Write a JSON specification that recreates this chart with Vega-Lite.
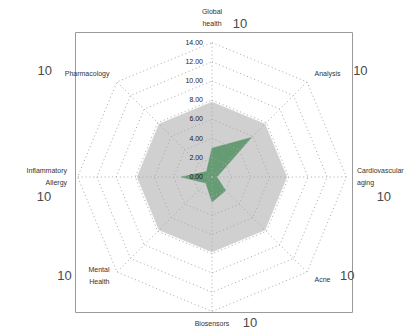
{
  "$schema": "https://vega.github.io/schema/vega-lite/v6.json",
  "width": 277,
  "height": 280,
  "autosize": "none",
  "padding": {"left": 75, "top": 32, "right": 65, "bottom": 21},
  "background": "white",
  "config": {"view": {"stroke": "#9a9a9a", "strokeWidth": 1}, "font": "Liberation Sans"},
  "datasets": {
    "axes": [
      {"i": 0, "name": "Global\nhealth", "value": 3.0, "ref": 7.8, "max": 10},
      {"i": 1, "name": "Analysis", "value": 5.8, "ref": 7.8, "max": 10},
      {"i": 2, "name": "Cardiovascular\naging", "value": 0.5, "ref": 7.8, "max": 10},
      {"i": 3, "name": "Acne", "value": 2.0, "ref": 7.8, "max": 10},
      {"i": 4, "name": "Biosensors", "value": 2.6, "ref": 7.8, "max": 10},
      {"i": 5, "name": "Mental\nHealth", "value": 0.9, "ref": 7.8, "max": 10},
      {"i": 6, "name": "Inflammatory\nAllergy", "value": 3.2, "ref": 7.8, "max": 10},
      {"i": 7, "name": "Pharmacology", "value": 0.8, "ref": 7.8, "max": 10}
    ],
    "rings": [
      {"r": 2, "i": [0, 1, 2, 3, 4, 5, 6, 7]},
      {"r": 4, "i": [0, 1, 2, 3, 4, 5, 6, 7]},
      {"r": 6, "i": [0, 1, 2, 3, 4, 5, 6, 7]},
      {"r": 8, "i": [0, 1, 2, 3, 4, 5, 6, 7]},
      {"r": 10, "i": [0, 1, 2, 3, 4, 5, 6, 7]},
      {"r": 12, "i": [0, 1, 2, 3, 4, 5, 6, 7]},
      {"r": 14, "i": [0, 1, 2, 3, 4, 5, 6, 7]}
    ],
    "ticks": [
      {"t": 0, "label": "0.00"},
      {"t": 2, "label": "2.00"},
      {"t": 4, "label": "4.00"},
      {"t": 6, "label": "6.00"},
      {"t": 8, "label": "8.00"},
      {"t": 10, "label": "10.00"},
      {"t": 12, "label": "12.00"},
      {"t": 14, "label": "14.00"}
    ]
  },
  "layer": [
    {
      "data": {"name": "axes"},
      "transform": [
        {"calculate": "datum.i * PI / 4", "as": "a"},
        {"calculate": "datum.ref * sin(datum.a)", "as": "px"},
        {"calculate": "datum.ref * cos(datum.a)", "as": "py"}
      ],
      "mark": {"type": "line", "interpolate": "linear-closed", "fill": "#d0d0d0", "stroke": "#d0d0d0", "strokeWidth": 0.5},
      "encoding": {
        "x": {"field": "px", "type": "quantitative", "scale": {"domain": [-14.27, 14.58], "nice": false, "zero": false}, "axis": null},
        "y": {"field": "py", "type": "quantitative", "scale": {"domain": [-14.06, 15.1], "nice": false, "zero": false}, "axis": null},
        "order": {"field": "i"}
      }
    },
    {
      "data": {"name": "axes"},
      "transform": [
        {"calculate": "datum.i * PI / 4", "as": "a"},
        {"calculate": "datum.value * sin(datum.a)", "as": "px"},
        {"calculate": "datum.value * cos(datum.a)", "as": "py"}
      ],
      "mark": {"type": "line", "interpolate": "linear-closed", "fill": "#5c976a", "fillOpacity": 0.92, "stroke": "#5c976a", "strokeWidth": 0.5},
      "encoding": {
        "x": {"field": "px", "type": "quantitative"},
        "y": {"field": "py", "type": "quantitative"},
        "order": {"field": "i"}
      }
    },
    {
      "data": {"name": "rings"},
      "transform": [
        {"flatten": ["i"]},
        {"calculate": "datum.i * PI / 4", "as": "a"},
        {"calculate": "datum.r * sin(datum.a)", "as": "px"},
        {"calculate": "datum.r * cos(datum.a)", "as": "py"}
      ],
      "mark": {"type": "line", "interpolate": "linear-closed", "color": "#a8a8a8", "strokeWidth": 1, "strokeDash": [1, 2.8]},
      "encoding": {
        "x": {"field": "px", "type": "quantitative"},
        "y": {"field": "py", "type": "quantitative"},
        "detail": {"field": "r"},
        "order": {"field": "i"}
      }
    },
    {
      "data": {"name": "axes"},
      "transform": [
        {"calculate": "datum.i * PI / 4", "as": "a"},
        {"calculate": "0", "as": "z"},
        {"calculate": "14 * sin(datum.a)", "as": "ex"},
        {"calculate": "14 * cos(datum.a)", "as": "ey"}
      ],
      "mark": {"type": "rule", "color": "#a8a8a8", "strokeWidth": 1, "strokeDash": [1, 2.8]},
      "encoding": {
        "x": {"field": "z", "type": "quantitative"},
        "y": {"field": "z", "type": "quantitative"},
        "x2": {"field": "ex"},
        "y2": {"field": "ey"}
      }
    },
    {
      "data": {"name": "ticks"},
      "transform": [{"calculate": "0", "as": "z"}],
      "mark": {"type": "text", "align": "right", "baseline": "middle", "dx": -9, "fontSize": 7, "color": "#1a1a1a"},
      "encoding": {
        "x": {"field": "z", "type": "quantitative"},
        "y": {"field": "t", "type": "quantitative"},
        "text": {"field": "label"}
      }
    },
    {
      "data": {"name": "axes"},
      "transform": [
        {"filter": "datum.i != 0 && datum.i != 4"},
        {"calculate": "datum.i * PI / 4", "as": "a"},
        {"calculate": "length(split(datum.name, '\\n'))", "as": "n"},
        {"calculate": "15.1 * sin(datum.a)", "as": "nx"},
        {"calculate": "15.1 * cos(datum.a) + (datum.n - 1) * 0.6 + (datum.i == 5 ? 0.35 : 0)", "as": "ny"}
      ],
      "layer": [
        {
          "transform": [{"filter": "datum.i < 4"}],
          "mark": {"type": "text", "align": "left", "baseline": "middle", "lineBreak": "\n", "fontSize": 7, "lineHeight": 11.5, "color": "#333333"},
          "encoding": {
            "x": {"field": "nx", "type": "quantitative"},
            "y": {"field": "ny", "type": "quantitative"},
            "text": {"field": "name"}
          }
        },
        {
          "transform": [{"filter": "datum.i > 4"}],
          "mark": {"type": "text", "align": "right", "baseline": "middle", "lineBreak": "\n", "fontSize": 7, "lineHeight": 11.5, "color": "#333333"},
          "encoding": {
            "x": {"field": "nx", "type": "quantitative"},
            "y": {"field": "ny", "type": "quantitative"},
            "text": {"field": "name"}
          }
        }
      ]
    },
    {
      "data": {"name": "axes"},
      "transform": [
        {"filter": "datum.i == 0 || datum.i == 4"},
        {"calculate": "0", "as": "nx"},
        {"calculate": "datum.i == 0 ? 17.2 : -15.3", "as": "ny"}
      ],
      "mark": {"type": "text", "align": "center", "baseline": "middle", "lineBreak": "\n", "fontSize": 7, "lineHeight": 12.3, "color": "#333333"},
      "encoding": {
        "x": {"field": "nx", "type": "quantitative"},
        "y": {"field": "ny", "type": "quantitative"},
        "text": {"field": "name"}
      }
    },
    {
      "data": {"name": "axes"},
      "transform": [
        {"calculate": "datum.i * PI / 4", "as": "a"},
        {"calculate": "split(datum.name, '\\n')", "as": "lines"},
        {"calculate": "max(length(datum.lines[0]), length(datum.lines[1] || ''))", "as": "L"},
        {"calculate": "datum.i == 0 ? datum.L * 0.21 + 0.9 : datum.i == 4 ? datum.L * 0.21 + 1.1 : datum.i == 2 ? 15.1 + datum.L * 0.2 : datum.i == 6 ? -15.1 - datum.L * 0.2 : datum.i < 4 ? 15.1 * sin(datum.a) + datum.L * 0.34 + 1.3 : 15.1 * sin(datum.a) - datum.L * 0.34 - 1.9", "as": "tx"},
        {"calculate": "datum.i == 0 ? 15.94 : datum.i == 4 ? -15.2 : (datum.i == 2 || datum.i == 6) ? -2.1 : datum.i == 1 || datum.i == 7 ? 11.0 : -10.35", "as": "ty"},
        {"calculate": "datum.i == 2 || datum.i == 6 ? 'c' : datum.i >= 5 ? 'r' : 'l'", "as": "side"}
      ],
      "layer": [
        {
          "transform": [{"filter": "datum.side == 'l'"}],
          "mark": {"type": "text", "align": "left", "baseline": "middle", "fontSize": 13, "color": "#4a4a4a"},
          "encoding": {
            "x": {"field": "tx", "type": "quantitative"},
            "y": {"field": "ty", "type": "quantitative"},
            "text": {"field": "max"}
          }
        },
        {
          "transform": [{"filter": "datum.side == 'r'"}],
          "mark": {"type": "text", "align": "right", "baseline": "middle", "fontSize": 13, "color": "#4a4a4a"},
          "encoding": {
            "x": {"field": "tx", "type": "quantitative"},
            "y": {"field": "ty", "type": "quantitative"},
            "text": {"field": "max"}
          }
        },
        {
          "transform": [{"filter": "datum.side == 'c'"}],
          "mark": {"type": "text", "align": "center", "baseline": "middle", "fontSize": 13, "color": "#4a4a4a"},
          "encoding": {
            "x": {"field": "tx", "type": "quantitative"},
            "y": {"field": "ty", "type": "quantitative"},
            "text": {"field": "max"}
          }
        }
      ]
    }
  ]
}
